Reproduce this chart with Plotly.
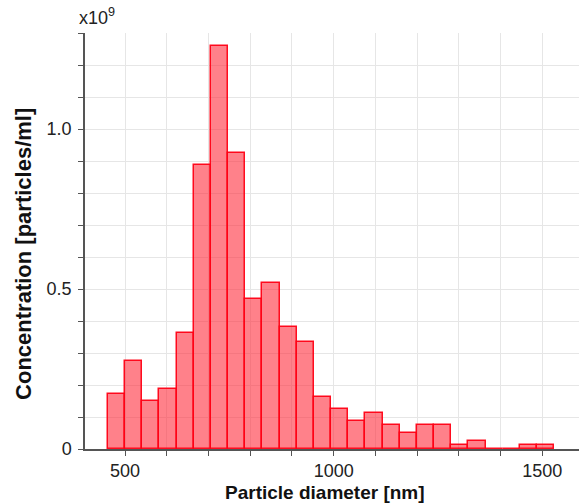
import plotly.graph_objects as go

# Histogram bins (nm) and concentrations (x10^9 particles/ml)
bin_start = 458.8
bin_width = 41.15
conc_e9 = [0.172, 0.274, 0.150, 0.187, 0.362, 0.889, 1.259, 0.926, 0.470, 0.518,
           0.382, 0.334, 0.163, 0.124, 0.089, 0.111, 0.075, 0.050, 0.075, 0.075,
           0.014, 0.026, 0.0, 0.0, 0.014, 0.014]
centers = [bin_start + bin_width * (i + 0.5) for i in range(len(conc_e9))]

y_tickvals = [0, 0.5, 1.0]
y_ticktext = ["0", "0.5", "1.0"]
x_tickvals = [500, 1000, 1500]

fig = go.Figure()
fig.add_trace(go.Bar(
    x=centers, y=conc_e9, width=[bin_width] * len(conc_e9),
    marker=dict(color="rgba(255,45,60,0.6)", line=dict(color="rgba(255,0,20,0.95)", width=1.5)),
    showlegend=False,
))

font = "Liberation Sans, Arial, sans-serif"
fig.update_layout(
    width=579, height=504,
    margin=dict(l=85, r=0, t=33, b=55),
    plot_bgcolor="white", paper_bgcolor="white",
    font=dict(family=font, size=18, color="#222"),
    bargap=0,
    xaxis=dict(
        range=[404, 1588], automargin=False,
        tickvals=x_tickvals, ticks="outside", ticklen=5, tickcolor="#555",
        showline=True, linecolor="#555", linewidth=1.5,
        showgrid=True, gridcolor="#e6e6e6", gridwidth=1,
        minor=dict(tickmode="linear", tick0=0, dtick=100, ticks="outside", ticklen=5,
                   tickcolor="#555", showgrid=True, gridcolor="#e6e6e6"),
        zeroline=False,
        ticklabelstandoff=0,
    ),
    yaxis=dict(
        range=[0, 1.3], automargin=False,
        tickvals=y_tickvals, ticktext=y_ticktext, ticks="outside", ticklen=5, tickcolor="#555",
        showline=True, linecolor="#555", linewidth=1.5,
        showgrid=True, gridcolor="#e6e6e6", gridwidth=1,
        minor=dict(tickmode="linear", tick0=0, dtick=0.1, ticks="outside", ticklen=5,
                   tickcolor="#555", showgrid=True, gridcolor="#e6e6e6"),
        zeroline=False,
        ticklabelstandoff=3,
    ),
    annotations=[
        dict(text="x10<sup>9</sup>", xref="paper", yref="paper", x=0, y=1,
             xanchor="left", yanchor="bottom", xshift=-8, yshift=3, showarrow=False,
             font=dict(size=18, color="#222")),
        dict(text="<b>Concentration [particles/ml]</b>", xref="paper", yref="paper",
             x=0, y=0.469, xanchor="center", yanchor="middle", xshift=-61, textangle=-90,
             showarrow=False, font=dict(size=22, color="#111")),
        dict(text="<b>Particle diameter [nm]</b>", xref="paper", yref="paper",
             x=0.5, y=0, xanchor="center", yanchor="middle", xshift=-7, yshift=-43,
             showarrow=False, font=dict(size=19, color="#111")),
    ],
)

fig.write_html("out.html")
